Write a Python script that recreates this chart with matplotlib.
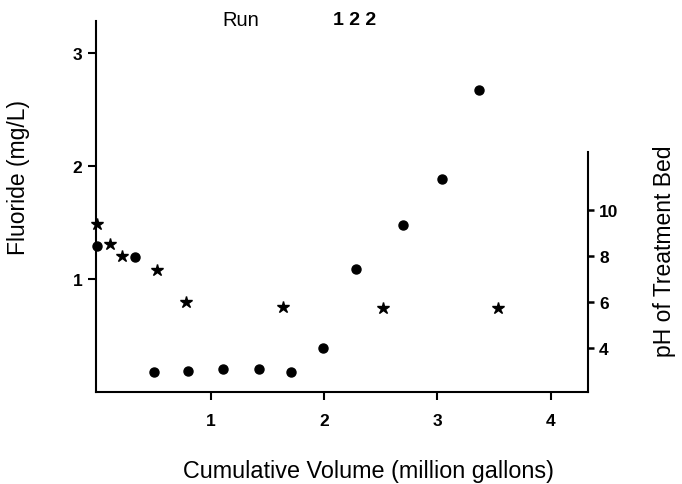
import matplotlib.pyplot as plt

plt.rcParams['font.family'] = ['Liberation Sans', 'DejaVu Sans']

# fluoride in effluent (circles, left axis)
vol_f = [0.0, 0.33, 0.50, 0.80, 1.11, 1.43, 1.71, 1.99, 2.28, 2.70, 3.04, 3.37]
fluoride = [1.29, 1.19, 0.18, 0.19, 0.20, 0.20, 0.18, 0.39, 1.09, 1.48, 1.88, 2.67]

# pH of treatment bed (stars, right axis)
vol_ph = [0.0, 0.11, 0.22, 0.53, 0.78, 1.64, 2.52, 3.54]
ph = [9.4, 8.5, 8.0, 7.4, 6.0, 5.8, 5.75, 5.75]

x_ticks = [1, 2, 3, 4]
f_ticks = [1, 2, 3]
ph_ticks = [4, 6, 8, 10]

fig = plt.figure(figsize=(6.82, 4.85), dpi=100)
ax = fig.add_axes([0.1408, 0.1897, 0.8622 - 0.1408, 0.9546 - 0.1897])
ax2 = ax.twinx()

ax.plot(vol_f, fluoride, 'o', color='black', ms=6.5, clip_on=False, zorder=5)
ax2.plot(vol_ph, ph, '*', color='black', ms=9, clip_on=False, zorder=5)

ax.set_xlim(-0.01, 4.33)
ax.set_ylim(0, 3.28)
ax2.set_ylim(2.087, 18.2)

for a in (ax, ax2):
    a.spines['top'].set_visible(False)
    for s in a.spines.values():
        s.set_linewidth(1.5)
ax.spines['right'].set_visible(False)
ax2.spines['left'].set_visible(False)
ax2.spines['bottom'].set_visible(False)
ax2.spines['right'].set_bounds(2.087, 12.5)

ax.set_xticks(x_ticks)
ax.set_yticks(f_ticks)
ax2.set_yticks(ph_ticks)
ax.tick_params(direction='out', length=6, width=1.5, labelsize=12.5, pad=4)
ax.tick_params(axis='x', pad=9)
ax2.tick_params(direction='out', length=4, width=1.8, labelsize=12.5, pad=4)
for lab in ax.get_xticklabels() + ax.get_yticklabels() + ax2.get_yticklabels():
    lab.set_fontweight('bold')

# axis titles placed by hand
fig.text(0.54, 0.027, 'Cumulative Volume (million gallons)', fontsize=16.8,
         ha='center', va='center')
fig.text(0.0264, 0.635, 'Fluoride (mg/L)', fontsize=16.5, rotation=90,
         ha='center', va='center', rotation_mode='anchor')
fig.text(0.975, 0.482, 'pH of Treatment Bed', fontsize=16.5, rotation=90,
         ha='center', va='center', rotation_mode='anchor')

fig.text(0.326, 0.957, 'Run', fontsize=14.5, ha='left', va='center')
fig.text(0.488, 0.957, '1 2 2', fontsize=14, fontweight='bold', ha='left', va='center')

fig.savefig('out.png', dpi=100)
